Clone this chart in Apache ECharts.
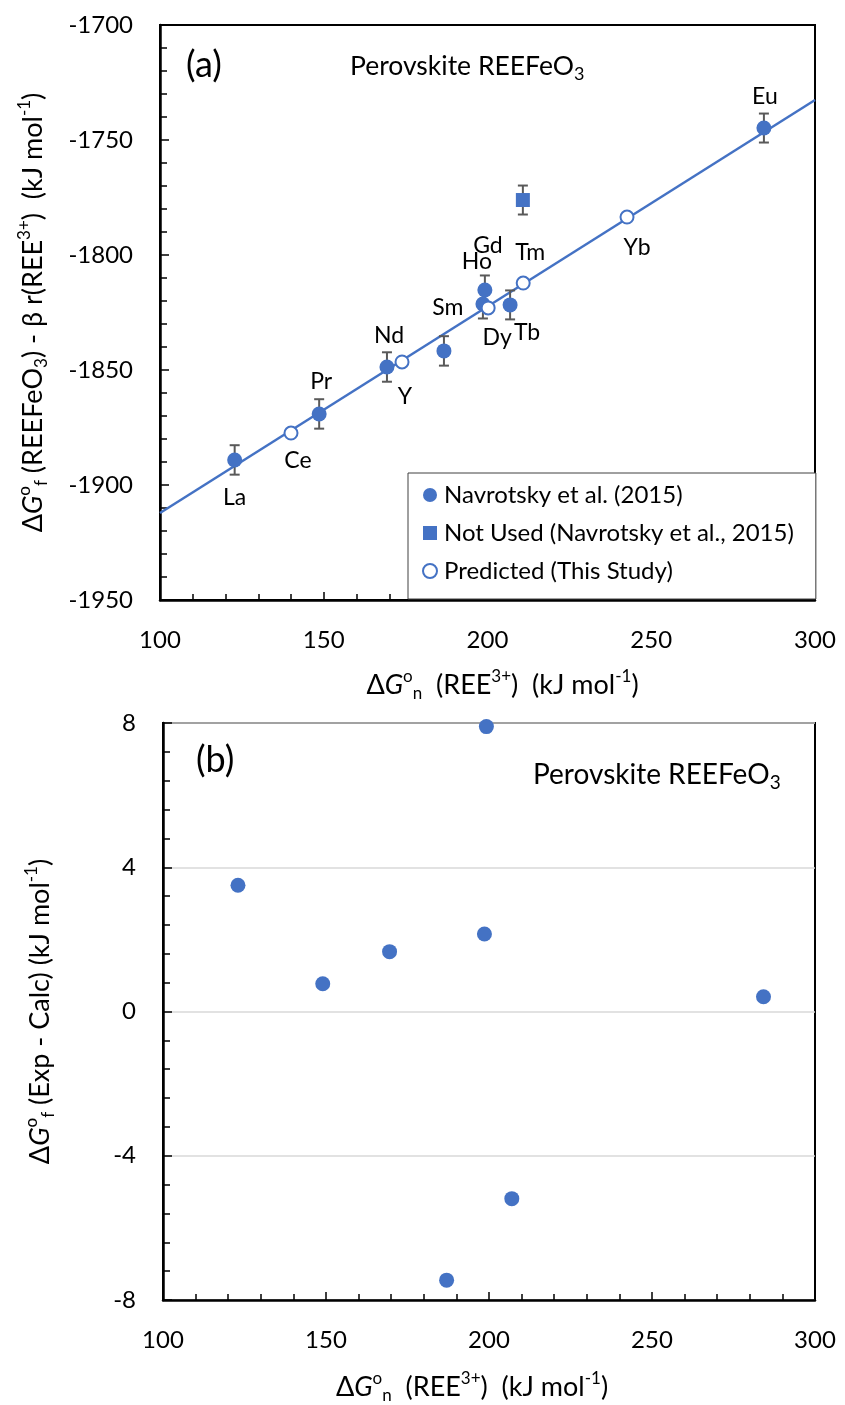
<!DOCTYPE html>
<html><head><meta charset="utf-8">
<script src="https://cdn.jsdelivr.net/npm/echarts@6/dist/echarts.min.js"></script>
<style>html,body{margin:0;padding:0;background:#fff}#c{width:845px;height:1405px}</style>
</head><body><div id="c"></div>
<script>
// ---- data (a) ----
const filledNames = ['La', 'Pr', 'Nd', 'Sm', 'Ho', 'Gd', 'Tb', 'Eu'];
const filledX = [122.8, 148.6, 169.3, 186.7, 199.2, 198.6, 206.9, 284.4];
const filledY = [-1889.1, -1869.1, -1848.7, -1841.7, -1815.2, -1821.3, -1821.7, -1744.8];
const filledErr = [6.4, 6.4, 6.4, 6.4, 6.3, 6.3, 6.3, 6.3];
const notUsedX = [210.8];
const notUsedY = [-1776.1];
const notUsedErr = [6.3];
const predNames = ['Ce', 'Y', 'Dy', 'Tm', 'Yb'];
const predX = [140.0, 173.9, 200.2, 210.9, 242.6];
const predY = [-1877.4, -1846.5, -1823.0, -1812.2, -1783.5];
const fitX = [100, 300];
const fitY = [-1912.2, -1732.6];
// ---- data (b) ----
const resX = [123.0, 149.0, 169.5, 187.0, 199.2, 198.6, 207.0, 284.2];
const resY = [3.5, 0.77, 1.66, -7.45, 7.9, 2.15, -5.19, 0.41];
// ---- tick settings ----
const xTicks = {min: 100, max: 300, interval: 50};
const yTicksA = {min: -1950, max: -1700, interval: 50};
const yTicksB = {min: -8, max: 8, interval: 4};

// label placements (style only)
const labelOffset = {La:[0,38], Pr:[2,-32], Nd:[2,-31], Sm:[4,-43], Ho:[-8,-28], Gd:[5,-58], Tb:[17,28], Eu:[1,-31],
  Ce:[7,28], Y:[3,35], Dy:[9,30], Tm:[7,-30], Yb:[10,31]};

const BLUE = '#4472C4';
const FONT = 'Lato';
function mkRich(fs, ss) {
  return {
    n: {fontFamily: FONT, fontSize: fs, color: '#000', lineHeight: 34},
    i: {fontFamily: FONT, fontSize: fs, color: '#000', fontStyle: 'italic', lineHeight: 34},
    sup: {fontFamily: FONT, fontSize: ss, color: '#000', verticalAlign: 'top', lineHeight: 34, padding:[0,0,8,0]},
    sub: {fontFamily: FONT, fontSize: ss, color: '#000', verticalAlign: 'bottom', lineHeight: 34, padding:[12,0,0,0]}
  };
}
// pick a font size so that "Perovskite REEFeO" + sub 3 spans a target width
function fitSize(target) {
  const ctx = document.createElement('canvas').getContext('2d');
  let best = 24;
  for (let s = 18; s <= 32; s += 0.5) {
    ctx.font = s + 'px ' + FONT;
    const w1 = ctx.measureText('Perovskite REEFeO').width;
    ctx.font = (s * 0.68) + 'px ' + FONT;
    const w2 = ctx.measureText('3').width;
    if (w1 + w2 <= target) best = s;
  }
  return best;
}
const titleRich = mkRich(27, 17);
const xName = '{n|Δ}{i|G}{sup|o}{sub|n}{n|  (REE}{sup|3+}{n|)  (kJ mol}{sup|-1}{n|)}';
const yNameA = '{n|Δ}{i|G}{sup|o}{sub|f}{n| (REEFeO}{sub|3}{n|) - β r(REE}{sup|3+}{n|)  (kJ mol}{sup|-1}{n|)}';
const yNameB = '{n|Δ}{i|G}{sup|o}{sub|f}{n| (Exp - Calc) (kJ mol}{sup|-1}{n|)}';

function mkX(gridIndex, pad, gap) {
  return {
    type: 'value', gridIndex, min: xTicks.min, max: xTicks.max, interval: xTicks.interval,
    axisLine: {show: true, onZero: false, lineStyle: {color: '#000', width: 2.5}},
    axisTick: {show: true, inside: true, length: 8, lineStyle: {color: '#000', width: 1.5}},
    minorTick: {show: true, splitNumber: 5, length: 6, lineStyle: {color: '#000', width: 1.5}},
    axisLabel: {fontFamily: FONT, fontSize: 24, color: '#000', margin: 28, formatter: v => String(v)},
    splitLine: {show: false},
    name: xName, nameLocation: 'middle', nameGap: gap, nameTextStyle: {rich: titleRich, padding: pad}
  };
}
function mkY(gridIndex, t, name, gap, split) {
  return {
    type: 'value', gridIndex, min: t.min, max: t.max, interval: t.interval,
    axisLine: {show: true, onZero: false, lineStyle: {color: '#000', width: 2.5}},
    axisTick: {show: true, inside: true, length: 9, lineStyle: {color: '#000', width: 1.5}},
    minorTick: {show: true, splitNumber: 5, length: 7, lineStyle: {color: '#000', width: 1.5}},
    axisLabel: {fontFamily: FONT, fontSize: 24, color: '#000', margin: 27, formatter: v => String(v)},
    splitLine: {show: split, lineStyle: {color: '#d9d9d9', width: 1.5}},
    name, nameLocation: 'middle', nameGap: gap, nameRotate: 90, nameTextStyle: {rich: titleRich}
  };
}

function errRender(params, api) {
  const x = api.value(0), y = api.value(1), e = api.value(2);
  const p1 = api.coord([x, y + e]), p2 = api.coord([x, y - e]);
  const c = 5;
  const st = {stroke: '#595959', lineWidth: 2};
  return {type: 'group', children: [
    {type: 'line', shape: {x1: p1[0], y1: p1[1], x2: p2[0], y2: p2[1]}, style: st},
    {type: 'line', shape: {x1: p1[0]-c, y1: p1[1], x2: p1[0]+c, y2: p1[1]}, style: st},
    {type: 'line', shape: {x1: p2[0]-c, y1: p2[1], x2: p2[0]+c, y2: p2[1]}, style: st}
  ]};
}
function lbl(name) {
  if (!name || !labelOffset[name]) return {show: false};
  return {show: true, position: 'inside', offset: labelOffset[name], formatter: name,
    fontFamily: FONT, fontSize: 23, color: '#000'};
}

const filledData = filledX.map((x, i) => ({value: [x, filledY[i]], name: filledNames[i], label: lbl(filledNames[i])}));
const predData = predX.map((x, i) => ({value: [x, predY[i]], name: predNames[i], label: lbl(predNames[i])}));
const errData = filledX.map((x, i) => [x, filledY[i], filledErr[i]]).concat(notUsedX.map((x, i) => [x, notUsedY[i], notUsedErr[i]]));

const sA = fitSize(238), sB = fitSize(252);

const chart = echarts.init(document.getElementById('c'), null, {renderer: 'canvas'});
chart.setOption({
  backgroundColor: '#fff',
  animation: false,
  grid: [
    {left: 160, top: 25, width: 655, height: 575, show: true, borderColor: '#000', borderWidth: 2, backgroundColor: '#fff'},
    {left: 163, top: 723, width: 652, height: 580, show: true, borderColor: '#000', borderWidth: 2, backgroundColor: '#fff'}
  ],
  xAxis: [mkX(0, [0, 0, 0, 30], 68), mkX(1, [0, 34, 0, 0], 70)],
  yAxis: [mkY(0, yTicksA, yNameA, 110, false), mkY(1, yTicksB, yNameB, 106, true)],
  legend: {
    show: true, orient: 'vertical', left: 408, top: 473,
    backgroundColor: '#fff', borderColor: '#404040', borderWidth: 1,
    padding: [10, 22, 16, 14], itemGap: 14, itemWidth: 14, itemHeight: 14,
    textStyle: {fontFamily: FONT, fontSize: 24, color: '#000', padding: [0, 0, 0, 2]},
    data: [
      {name: 'Navrotsky et al. (2015)', icon: 'circle'},
      {name: 'Not Used (Navrotsky et al., 2015)', icon: 'rect'},
      {name: 'Predicted (This Study)', icon: 'emptyCircle'}
    ],
    z: 10
  },
  series: [
    {type: 'line', xAxisIndex: 0, yAxisIndex: 0, data: fitX.map((x, i) => [x, fitY[i]]), symbol: 'none',
      lineStyle: {color: BLUE, width: 2.5}, z: 1, silent: true},
    {type: 'custom', xAxisIndex: 0, yAxisIndex: 0, renderItem: errRender, data: errData, z: 2, encode: {x: 0, y: 1}},
    {type: 'scatter', name: 'Navrotsky et al. (2015)', xAxisIndex: 0, yAxisIndex: 0, data: filledData,
      symbol: 'circle', symbolSize: 15, itemStyle: {color: BLUE, opacity: 1}, z: 3},
    {type: 'scatter', name: 'Not Used (Navrotsky et al., 2015)', xAxisIndex: 0, yAxisIndex: 0,
      data: notUsedX.map((x, i) => [x, notUsedY[i]]),
      symbol: 'rect', symbolSize: 14, itemStyle: {color: BLUE, opacity: 1}, z: 3},
    {type: 'scatter', name: 'Predicted (This Study)', xAxisIndex: 0, yAxisIndex: 0, data: predData,
      symbol: 'emptyCircle', symbolSize: 13, itemStyle: {color: BLUE, borderColor: BLUE, borderWidth: 2, opacity: 1}, z: 4},
    {type: 'scatter', xAxisIndex: 1, yAxisIndex: 1, data: resX.map((x, i) => [x, resY[i]]),
      symbol: 'circle', symbolSize: 15, itemStyle: {color: BLUE, opacity: 1}, z: 3, clip: false}
  ],
  graphic: [
    {type: 'text', left: 186, top: 47, style: {text: '(a)', fontFamily: FONT, fontSize: 36, fill: '#000'}},
    {type: 'text', left: 350, top: 53, style: {text: '{n|Perovskite REEFeO}{sub|3}', rich: mkRich(sA, Math.round(sA * 0.68))}},
    {type: 'text', left: 196, top: 742, style: {text: '(b)', fontFamily: FONT, fontSize: 36, fill: '#000'}},
    {type: 'text', left: 533, top: 761, style: {text: '{n|Perovskite REEFeO}{sub|3}', rich: mkRich(sB, Math.round(sB * 0.68))}}
  ]
});
</script></body></html>
